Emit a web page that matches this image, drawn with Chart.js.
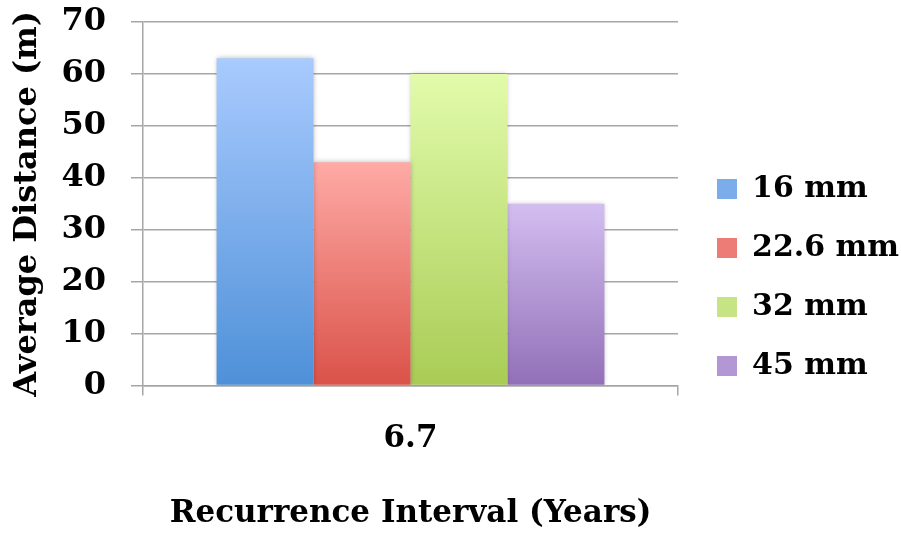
<!DOCTYPE html>
<html>
<head>
<meta charset="utf-8">
<script src="https://cdn.jsdelivr.net/npm/chart.js@4.4.1/dist/chart.umd.min.js"></script>
<style>
  html, body { margin: 0; padding: 0; background: #ffffff; }
  #wrap { width: 901px; height: 533px; }
</style>
</head>
<body>
<div id="wrap"><canvas id="chart" width="901" height="533"></canvas></div>
<script>
// Recurrence interval categories and average travel distance per grain size
const categories = ['6.7'];
const seriesNames = ['16 mm', '22.6 mm', '32 mm', '45 mm'];
const dist16 = [63];
const dist22 = [43];
const dist32 = [60];
const dist45 = [35];
const yTicks = [0, 10, 20, 30, 40, 50, 60, 70];

// top / middle / bottom colours of each bar's vertical gradient
const shades = [
  ['#a9cbfe', '#7badea', '#4e90d8'],
  ['#ffaaa6', '#ed7c76', '#da5248'],
  ['#e2fbab', '#c6e484', '#a9cc55'],
  ['#d3bef0', '#b297d4', '#9270b8']
];

const FONT = "'DejaVu Serif', serif";

function gradientFill(i) {
  return function (ctx) {
    const chart = ctx.chart;
    if (ctx.type !== 'data' || !chart.chartArea) return shades[i][1];
    const y = chart.scales.y;
    const top = y.getPixelForValue(ctx.raw);
    const bottom = y.getPixelForValue(0);
    const g = chart.ctx.createLinearGradient(0, top, 0, bottom);
    g.addColorStop(0, shades[i][0]);
    g.addColorStop(1, shades[i][2]);
    return g;
  };
}

const seriesValues = [dist16, dist22, dist32, dist45];
const datasets = seriesNames.map((name, i) => ({
  label: name,
  data: seriesValues[i],
  backgroundColor: gradientFill(i),
  borderWidth: 0
}));

// soft drop shadow behind the bars
const barShadow = {
  id: 'barShadow',
  beforeDatasetsDraw(chart) {
    const c = chart.ctx;
    c.save();
    c.shadowColor = 'rgba(0,0,0,0.28)';
    c.shadowBlur = 5;
    c.shadowOffsetX = 0;
    c.shadowOffsetY = 0;
  },
  afterDatasetsDraw(chart) {
    chart.ctx.restore();
  }
};

// leave a wider gutter between the plot and the legend column
const legendGutter = {
  id: 'legendGutter',
  afterLayout(chart) {
    if (chart.legend) {
      chart.legend.left += 10;
      chart.legend.right += 10;
    }
  }
};

new Chart(document.getElementById('chart'), {
  type: 'bar',
  data: { labels: categories, datasets },
  plugins: [barShadow, legendGutter],
  options: {
    responsive: false,
    animation: false,
    layout: { padding: { top: 22, left: 8, right: 2, bottom: 0 } },
    datasets: { bar: { categoryPercentage: 0.725, barPercentage: 1.0 } },
    plugins: {
      tooltip: { enabled: false },
      legend: {
        position: 'right',
        align: 'center',
        labels: {
          color: '#000',
          font: { family: FONT, size: 30, weight: 'bold' },
          boxWidth: 20,
          boxHeight: 20,
          padding: 29,
          generateLabels(chart) {
            return chart.data.datasets.map((d, i) => ({
              text: d.label,
              fillStyle: shades[i][1],
              strokeStyle: shades[i][1],
              lineWidth: 0,
              datasetIndex: i
            }));
          }
        }
      }
    },
    scales: {
      x: {
        offset: true,
        grid: {
          offset: true,
          drawOnChartArea: false,
          drawTicks: true,
          tickLength: 10,
          color: '#a6a6a6',
          lineWidth: 1.5
        },
        border: { display: true, color: '#a6a6a6', width: 1.5 },
        ticks: {
          color: '#000',
          padding: 25,
          font: { family: FONT, size: 31, weight: 'bold' }
        },
        title: {
          display: true,
          text: 'Recurrence Interval (Years)',
          color: '#000',
          padding: { top: 13, bottom: 0 },
          font: { family: FONT, size: 31, weight: 'bold' }
        }
      },
      y: {
        min: 0,
        max: 70,
        afterBuildTicks(scale) {
          scale.ticks = yTicks.map(v => ({ value: v }));
        },
        afterFit(scale) {
          scale.width = 135;
          scale.paddingTop = 0;
          scale.paddingBottom = 0;
        },
        grid: {
          color: '#a6a6a6',
          lineWidth: 1.5,
          tickLength: 12
        },
        border: { display: true, color: '#a6a6a6', width: 1.5 },
        ticks: {
          color: '#000',
          padding: 25,
          font: { family: FONT, size: 32, weight: 'bold' }
        },
        title: {
          display: true,
          text: 'Average Distance (m)',
          color: '#000',
          padding: { top: 0, bottom: 0 },
          font: { family: FONT, size: 32, weight: 'bold' }
        }
      }
    }
  }
});
</script>
</body>
</html>
